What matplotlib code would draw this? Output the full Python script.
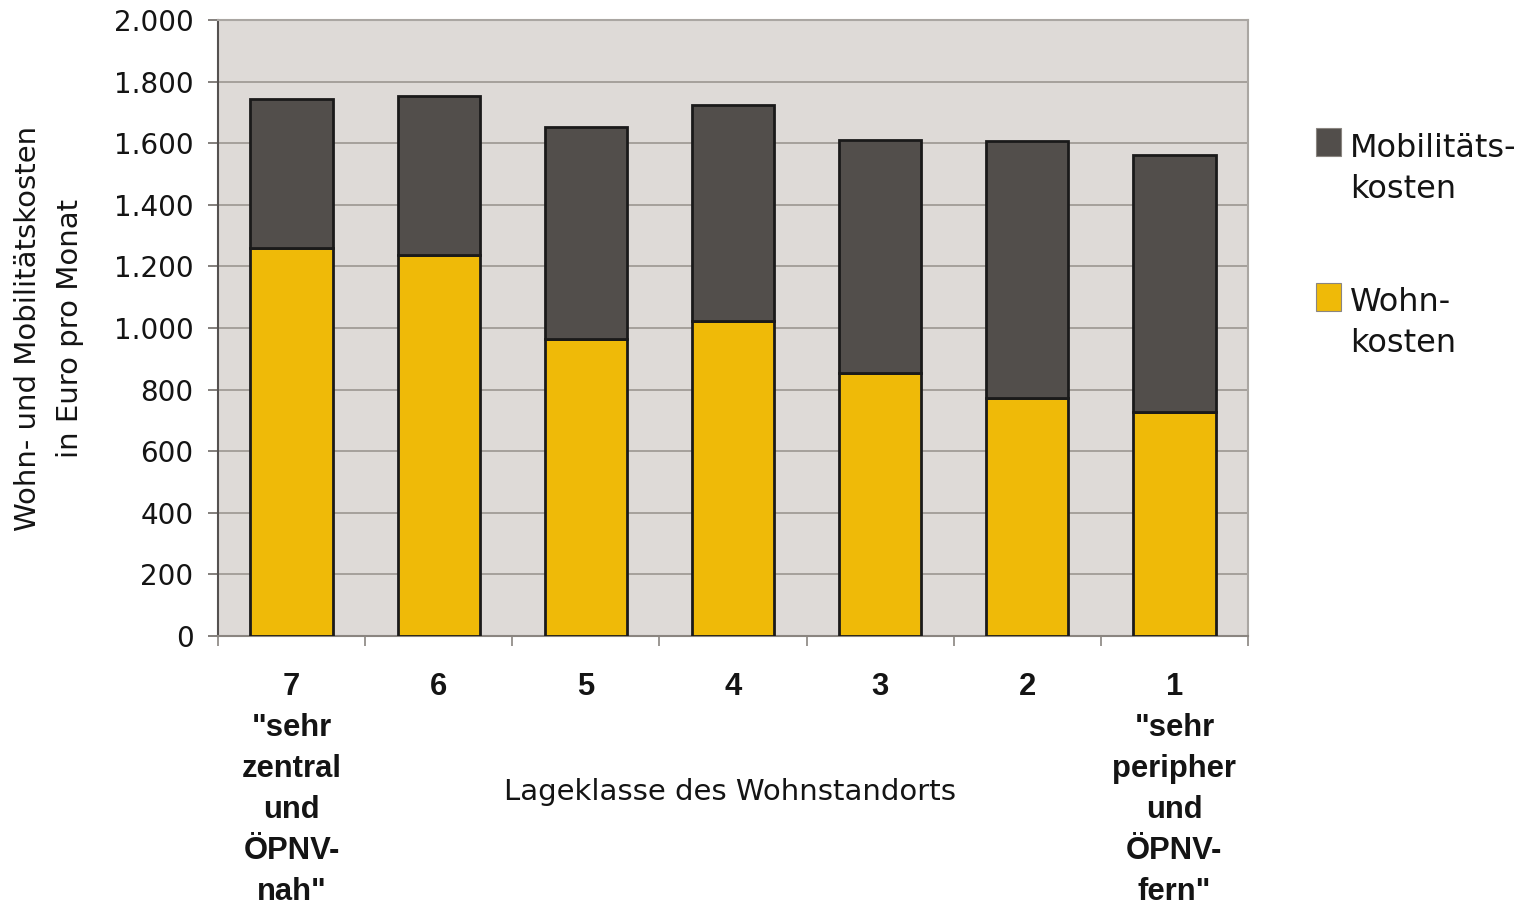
import matplotlib
matplotlib.use("Agg")
import matplotlib.pyplot as plt
from matplotlib.patches import Rectangle
from matplotlib.ticker import FuncFormatter, FixedLocator
from matplotlib.transforms import blended_transform_factory

# Location classes (7 = very central, 1 = very peripheral)
classes = ["7", "6", "5", "4", "3", "2", "1"]
class_notes = [['"sehr', "zentral", "und", "ÖPNV-", 'nah"'], [], [], [], [], [],
               ['"sehr', "peripher", "und", "ÖPNV-", 'fern"']]
housing_costs = [1260, 1237, 964, 1023, 854, 773, 727]
total_costs = [1743, 1753, 1653, 1724, 1610, 1607, 1562]
mobility_costs = [t - h for t, h in zip(total_costs, housing_costs)]
yticks = [0, 200, 400, 600, 800, 1000, 1200, 1400, 1600, 1800, 2000]

reg = "DejaVu Sans"
bold = "Liberation Sans"

col_mob = "#524e4b"
col_wohn = "#efba08"
bg = "#dedad7"
grid_col = "#a19b96"
txt = "#141414"

W, H = 1523, 910
fig = plt.figure(figsize=(W / 100, H / 100), dpi=100)
ax = fig.add_axes([218 / W, 1 - 636 / H, 1030 / W, 616 / H])
ax.set_facecolor(bg)

x = list(range(len(classes)))
w = 0.56
ax.bar(x, housing_costs, width=w, color=col_wohn, edgecolor="#1a1a1a", linewidth=2.0, zorder=3)
ax.bar(x, mobility_costs, width=w, bottom=housing_costs, color=col_mob,
       edgecolor="#1a1a1a", linewidth=2.0, zorder=3)

ax.set_xlim(-0.5, len(classes) - 0.5)
ax.set_ylim(0, 2000)
ax.set_yticks(yticks)
ax.yaxis.set_major_formatter(FuncFormatter(lambda v, p: f"{int(v):,}".replace(",", ".")))
ax.grid(axis="y", color=grid_col, linewidth=1.3, zorder=1)
ax.set_axisbelow(True)

# category labels below the axis, one text per line
ax.set_xticks(x)
ax.set_xticklabels([""] * len(classes))
ax.tick_params(axis="x", which="major", length=0)
ax.xaxis.set_minor_locator(FixedLocator([i - 0.5 for i in range(len(classes) + 1)]))
ax.tick_params(axis="x", which="minor", length=7.2, width=1.2, color="#8a8580")
tr = blended_transform_factory(ax.transData, fig.transFigure)
for i, (c, note) in enumerate(zip(classes, class_notes)):
    for k, line in enumerate([c] + note):
        ax.text(i, 1 - (695 + 41 * k) / H, line, transform=tr, ha="center", va="baseline",
                fontsize=22.3, fontweight="bold", family=bold, color=txt)

ax.tick_params(axis="y", length=7.2, width=1.2, color="#6e6a66", labelsize=20, pad=10.5,
               labelcolor=txt)
for lab in ax.get_yticklabels():
    lab.set_family(reg)

for side in ["top", "right"]:
    ax.spines[side].set_color("#aaa6a2")
    ax.spines[side].set_linewidth(1.5)
ax.spines["left"].set_color("#555150")
ax.spines["left"].set_linewidth(1.5)
ax.spines["bottom"].set_color("#8a8580")
ax.spines["bottom"].set_linewidth(1.5)

fig.text(730 / W, 1 - 800 / H, "Lageklasse des Wohnstandorts", ha="center", va="baseline",
         fontsize=21, family=reg, color=txt)

for xc, line in [(28, "Wohn- und Mobilitätskosten"), (70, "in Euro pro Monat")]:
    fig.text(xc / W, 1 - 328 / H, line, rotation=90, ha="center", va="center",
             fontsize=21, family=reg, color=txt)

# legend drawn beside the plot
legend_items = [(["Mobilitäts-", "kosten"], col_mob, 128, 157),
                (["Wohn-", "kosten"], col_wohn, 283, 311)]
for lines, col, ytop, base in legend_items:
    fig.patches.append(Rectangle((1316 / W, 1 - (ytop + 28) / H), 25 / W, 28 / H,
                                 transform=fig.transFigure, facecolor=col,
                                 edgecolor="#8a8580", linewidth=0.8))
    for k, line in enumerate(lines):
        fig.text(1350 / W, 1 - (base + 41 * k) / H, line, ha="left", va="baseline",
                 fontsize=23, family=reg, color=txt)

fig.savefig("out.png", dpi=100, facecolor="white")
